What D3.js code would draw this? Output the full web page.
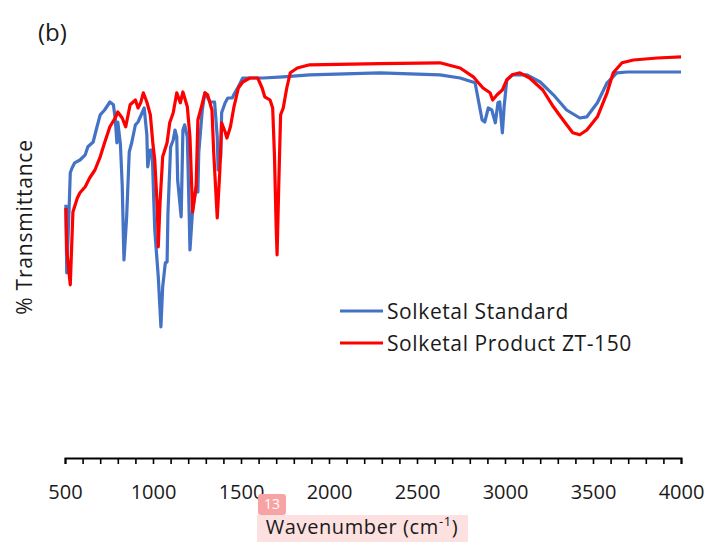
<!DOCTYPE html>
<html>
<head>
<script src="https://cdnjs.cloudflare.com/ajax/libs/d3/7.8.5/d3.min.js"></script>
<style>
  body { margin: 0; background: #fff; }
  text { font-family: "Open Sans", "DejaVu Sans", sans-serif; fill: #1a1a1a; }
</style>
</head>
<body>
<script>
// Solketal Standard (blue) - wavenumber (cm-1) and relative %T
var stdWave = [505, 510, 525, 530, 540, 555, 585, 615, 630, 660, 680, 700, 725, 755, 775, 785, 795, 800, 815, 825,
  835, 850, 865, 880, 900, 915, 940, 950, 965, 970, 985, 995, 1010, 1030, 1045, 1055, 1070, 1080, 1085, 1100,
  1115, 1125, 1135, 1140, 1160, 1170, 1180, 1195, 1205, 1210, 1225, 1245, 1255, 1260, 1280, 1295, 1325, 1350, 1365, 1370,
  1385, 1390, 1410, 1425, 1450, 1465, 1485, 1510, 1625, 1740, 1890, 2290, 2630, 2745, 2830, 2845, 2870, 2885, 2905, 2925,
  2945, 2960, 2970, 2985, 2995, 3010, 3045, 3125, 3200, 3275, 3350, 3425, 3465, 3525, 3580, 3635, 3695, 4000]
var stdT = [63.3, 46.3, 64.5, 71.3, 72.5, 73.8, 74.5, 75.8, 77.8, 79, 82.5, 85.8, 87, 89, 88.3, 85, 78.8, 84, 78.3, 68.3,
  49.5, 60, 76.5, 79, 83.3, 84, 86.5, 87.5, 80.8, 72.8, 77, 77, 57, 45.3, 32.8, 42.8, 48.8, 49, 61.3, 77.8,
  79.5, 82, 80.3, 69.5, 60.3, 82, 83.3, 80.3, 62, 52, 62, 67.8, 66.5, 76.3, 87, 91.3, 89, 89, 80.3, 72,
  75.3, 86.3, 88.8, 90, 90, 91.3, 92.8, 95, 95, 95.3, 95.8, 96.3, 95.8, 95, 93.8, 90.3, 84.5, 84, 87.5, 87,
  83.8, 88.8, 89, 81.3, 87.8, 94.5, 95.8, 95.8, 94, 90.8, 87, 85, 85.3, 88.8, 93.8, 96.3, 96.5, 96.5]

// Solketal Product ZT-150 (red)
var prodWave = [505, 510, 530, 545, 570, 585, 615, 640, 670, 700, 725, 755, 785, 800, 825, 845, 870, 900, 915, 930,
  945, 965, 985, 1000, 1010, 1025, 1030, 1040, 1055, 1080, 1095, 1115, 1135, 1155, 1170, 1195, 1210, 1225, 1245, 1255,
  1275, 1295, 1310, 1335, 1345, 1365, 1380, 1390, 1410, 1420, 1440, 1460, 1485, 1510, 1550, 1595, 1620, 1635, 1665, 1680,
  1690, 1700, 1705, 1715, 1725, 1740, 1760, 1780, 1820, 1890, 2290, 2630, 2745, 2820, 2845, 2875, 2915, 2930, 2955, 2985,
  3010, 3040, 3085, 3140, 3215, 3275, 3330, 3385, 3425, 3465, 3525, 3580, 3615, 3665, 3730, 3865, 4000]
var prodT = [62.5, 52, 43.3, 61.5, 65, 66.3, 67.8, 70, 72, 75.3, 78.8, 82.8, 85, 86.5, 85, 82.8, 88.3, 89.5, 87.5, 88.8,
  91.3, 89, 85.8, 78.3, 74.5, 62, 52.8, 63.8, 75.3, 78.8, 83.8, 86.3, 91.3, 88.8, 91.5, 87.8, 80.3, 61.5, 67.8, 84.5,
  87.8, 91.3, 90.8, 87, 76.3, 60, 72, 83.8, 81.5, 80, 82.8, 87.8, 92.5, 94, 95, 95, 92.5, 90.3, 89.5, 87.5,
  75.8, 57.5, 50.8, 69, 85.8, 87.5, 92.5, 96.3, 97.5, 98.3, 98.6, 98.8, 97.5, 95.3, 94, 92.5, 91.3, 89.5, 90.8, 92,
  94.5, 95.8, 96.3, 95, 92, 87.8, 84.5, 81.3, 80.8, 82, 85.3, 91.3, 96.3, 98.8, 99.5, 100, 100.3]

var xTicks = d3.range(500, 4001, 100)
var seriesNames = ["Solketal Standard", "Solketal Product ZT-150"]
var seriesColors = ["#4472C4", "#FF0000"]

var w = 709, h = 542
var svg = d3.select("body").append("svg").attr("width", w).attr("height", h)

var x = d3.scaleLinear().domain([500, 4000]).range([65, 681])
var y = d3.scaleLinear().domain([0, 100]).range([458, 58])

// x axis with minor ticks every 100, labels every 500
var xAxis = svg.append("g")
  .attr("transform", "translate(0,458)")
  .call(d3.axisBottom(x).tickValues(xTicks).tickSize(6).tickSizeOuter(6).tickPadding(21)
    .tickFormat(d => d % 500 === 0 ? d : ""))
xAxis.select(".domain").attr("stroke", "#000").attr("stroke-width", 2)
xAxis.selectAll(".tick line").attr("stroke", "#000").attr("stroke-width", 1.6)
xAxis.selectAll(".tick text").attr("font-size", 20).attr("font-family", "Open Sans").attr("fill", "#1a1a1a")

var line = d3.line().x(d => x(d[0])).y(d => y(d[1]))

var stdData = d3.zip(stdWave, stdT)
var prodData = d3.zip(prodWave, prodT)

svg.append("path").datum(stdData)
  .attr("d", line).attr("fill", "none")
  .attr("stroke", seriesColors[0]).attr("stroke-width", 3.2).attr("stroke-linejoin", "round")

svg.append("path").datum(prodData)
  .attr("d", line).attr("fill", "none")
  .attr("stroke", seriesColors[1]).attr("stroke-width", 3.2).attr("stroke-linejoin", "round")

// legend
seriesNames.forEach(function (name, i) {
  var ly = 311 + i * 32
  svg.append("line").attr("x1", 340).attr("x2", 383).attr("y1", ly).attr("y2", ly)
    .attr("stroke", seriesColors[i]).attr("stroke-width", 3)
  svg.append("text").attr("x", 387).attr("y", ly + 8).attr("font-size", 21)
    .attr("letter-spacing", 0.6).text(name)
})

// titles
svg.append("text").attr("x", 38).attr("y", 41).attr("font-size", 24).text("(b)")

svg.append("text")
  .attr("transform", "translate(32,227) rotate(-90)")
  .attr("text-anchor", "middle").attr("font-size", 21).attr("letter-spacing", 0.8)
  .text("% Transmittance")

// annotation marks seen on the source image
svg.append("rect").attr("x", 257).attr("y", 515).attr("width", 211).attr("height", 27).attr("fill", "#fde0e0")
svg.append("rect").attr("x", 258).attr("y", 494).attr("width", 28).attr("height", 21).attr("rx", 3).attr("fill", "#f8a3a3")
svg.append("text").attr("x", 272).attr("y", 509).attr("text-anchor", "middle")
  .attr("font-size", 14).style("fill", "#fff").text("13")

var title = svg.append("text").attr("x", 362).attr("y", 534).attr("text-anchor", "middle")
  .attr("font-size", 20).attr("letter-spacing", 0.6)
title.append("tspan").text("Wavenumber (cm")
title.append("tspan").attr("font-size", 13).attr("dy", -8).text("-1")
title.append("tspan").attr("dy", 8).text(")")
</script>
</body>
</html>
